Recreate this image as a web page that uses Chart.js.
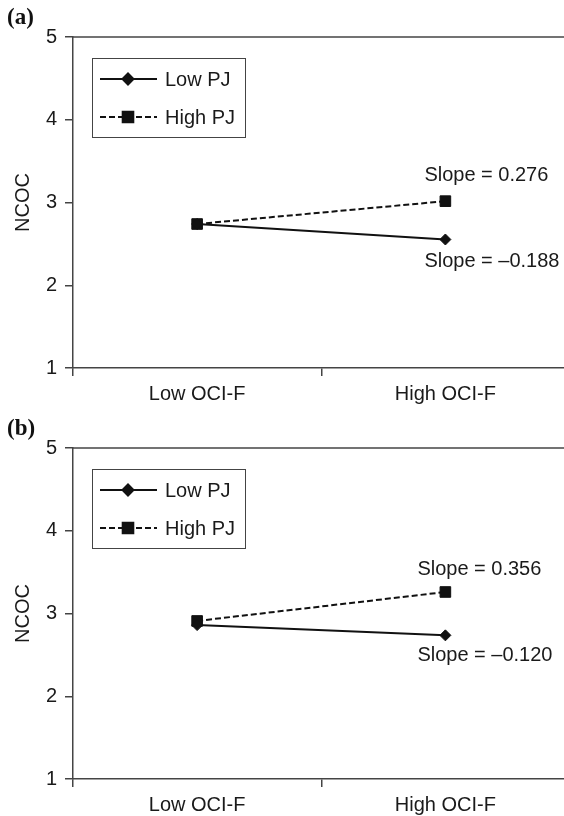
<!DOCTYPE html>
<html>
<head>
<meta charset="utf-8">
<script src="https://cdn.jsdelivr.net/npm/chart.js@4.4.1/dist/chart.umd.min.js"></script>
<style>
  html, body { margin: 0; padding: 0; background: #fff; overflow: hidden; }
  #wrap { position: relative; width: 564px; height: 816px; overflow: hidden; }
  canvas { position: absolute; left: 0; }
  #chartA { top: 0; }
  #chartB { top: 411px; }
</style>
</head>
<body>
<div id="wrap">
  <canvas id="chartA" width="578" height="408"></canvas>
  <canvas id="chartB" width="578" height="408"></canvas>
</div>
<script>
// --- data ---
const categories = ['Low OCI-F', 'High OCI-F'];
const yTicks = [1, 2, 3, 4, 5];
const seriesNames = ['Low PJ', 'High PJ'];

// panel (a)
const lowPJ_a = [2.74, 2.553];
const highPJ_a = [2.74, 3.016];
const slopes_a = ['Slope = \u20130.188', 'Slope = 0.276'];

// panel (b)
const lowPJ_b = [2.86, 2.736];
const highPJ_b = [2.91, 3.26];
const slopes_b = ['Slope = \u20130.120', 'Slope = 0.356'];

const AXIS = '#444';
const TEXT = '#1a1a1a';
const INK = '#111';

Chart.defaults.font.family = "'Liberation Sans', Arial, Helvetica, sans-serif";
Chart.defaults.font.size = 20;
Chart.defaults.color = TEXT;

// frame top line, panel letter, legend box and slope notes
const decor = {
  id: 'decor',
  afterDraw(chart, args, opts) {
    const ctx = chart.ctx;
    const area = chart.chartArea;
    ctx.save();

    ctx.strokeStyle = AXIS;
    ctx.lineWidth = 1.5;
    ctx.beginPath();
    ctx.moveTo(area.left, area.top);
    ctx.lineTo(area.right, area.top);
    ctx.stroke();

    ctx.fillStyle = INK;
    ctx.font = 'bold 23px "Liberation Serif", "Times New Roman", serif';
    ctx.textAlign = 'left';
    ctx.textBaseline = 'middle';
    ctx.fillText(opts.panel, 7, 18);

    // legend
    const bx = 92, by = 58, bw = 153, bh = 79;
    ctx.lineWidth = 1;
    ctx.strokeStyle = AXIS;
    ctx.strokeRect(bx + 0.5, by + 0.5, bw, bh);
    ctx.font = "20px 'Liberation Sans', Arial, sans-serif";
    chart.data.datasets.forEach((ds, i) => {
      const y = by + 21 + i * 38;
      ctx.strokeStyle = ds.borderColor;
      ctx.lineWidth = ds.borderWidth;
      ctx.setLineDash(ds.borderDash || []);
      ctx.beginPath();
      ctx.moveTo(100, y);
      ctx.lineTo(157, y);
      ctx.stroke();
      ctx.setLineDash([]);
      ctx.fillStyle = INK;
      ctx.strokeStyle = INK;
      Chart.helpers.drawPoint(ctx, { pointStyle: ds.pointStyle, radius: ds.pointRadius, borderWidth: 1 }, 128, y);
      ctx.fillStyle = TEXT;
      ctx.fillText(ds.label, 165, y + 1);
    });

    // slope notes next to the right-hand points
    chart.data.datasets.forEach((ds, i) => {
      const meta = chart.getDatasetMeta(i);
      const pt = meta.data[meta.data.length - 1];
      const above = ds.data[ds.data.length - 1] > ds.data[0];
      ctx.fillStyle = TEXT;
      ctx.fillText(opts.slopes[i], pt.x + opts.dx, pt.y + (above ? opts.above : opts.below));
    });
    ctx.restore();
  }
};

function makePanel(id, low, high, panel, slopes, off) {
  const ctx = document.getElementById(id).getContext('2d');
  return new Chart(ctx, {
    type: 'line',
    data: {
      labels: categories,
      datasets: [
        {
          label: seriesNames[0], data: low,
          borderColor: INK, backgroundColor: INK, borderWidth: 2,
          pointStyle: 'rectRot', pointRadius: 5.5, pointBorderWidth: 1,
          pointBackgroundColor: INK, pointBorderColor: INK, tension: 0
        },
        {
          label: seriesNames[1], data: high,
          borderColor: INK, backgroundColor: INK, borderWidth: 2, borderDash: [6, 3],
          pointStyle: 'rect', pointRadius: 7.5, pointBorderWidth: 1,
          pointBackgroundColor: INK, pointBorderColor: INK, tension: 0
        }
      ]
    },
    options: {
      responsive: false,
      animation: false,
      devicePixelRatio: 1,
      layout: { padding: { top: 37, right: 3, left: 0, bottom: 0 } },
      plugins: {
        legend: { display: false },
        tooltip: { enabled: false },
        decor: Object.assign({ panel, slopes }, off)
      },
      scales: {
        x: {
          offset: true,
          grid: { offset: true, drawOnChartArea: false, tickLength: 8, color: AXIS, lineWidth: 1.5 },
          border: { color: AXIS, width: 1.5 },
          ticks: { padding: 6, color: TEXT, maxRotation: 0 },
          afterFit(s) { s.height = 40; }
        },
        y: {
          min: yTicks[0],
          max: yTicks[yTicks.length - 1],
          ticks: { stepSize: 1, padding: 8, color: TEXT },
          grid: { drawOnChartArea: false, tickLength: 8, color: AXIS, lineWidth: 1.5 },
          border: { color: AXIS, width: 1.5 },
          title: { display: true, text: 'NCOC', color: TEXT, padding: { top: 11, bottom: 0 } },
          afterFit(s) { s.width = 73; }
        }
      }
    },
    plugins: [decor]
  });
}

makePanel('chartA', lowPJ_a, highPJ_a, '(a)', slopes_a, { dx: -21, above: -26, below: 22 });
makePanel('chartB', lowPJ_b, highPJ_b, '(b)', slopes_b, { dx: -28, above: -23, below: 20 });
</script>
</body>
</html>
